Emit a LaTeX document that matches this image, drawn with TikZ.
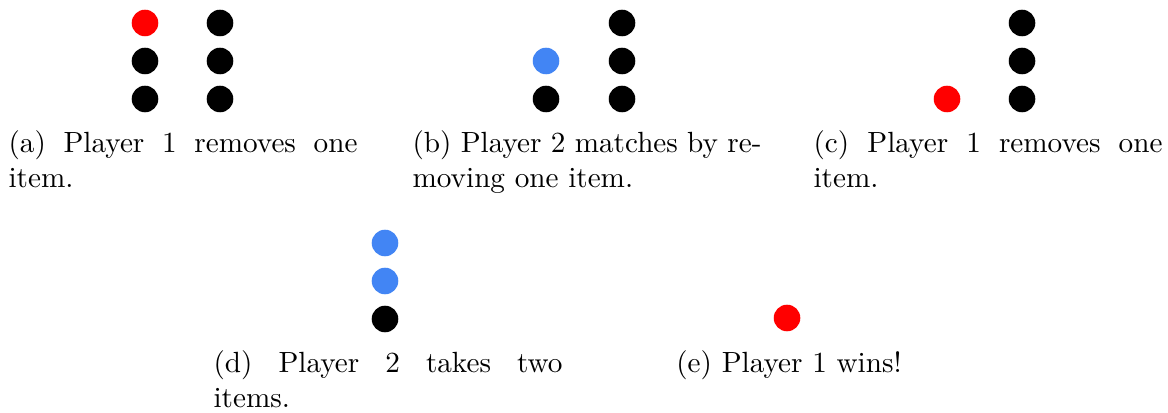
\documentclass[tikz,border=0pt]{standalone}
\usepackage{tikz}

\definecolor{pone}{RGB}{255,0,0}
\definecolor{ptwo}{RGB}{66,133,244}

% width of a subfigure caption
\newlength{\capw}
\setlength{\capw}{119.5pt}

\tikzset{
  item/.style={circle, fill=black, inner sep=0pt, minimum size=9.1pt},
  takenone/.style={item, fill=pone},
  takentwo/.style={item, fill=ptwo},
  caplabel/.style={anchor=base west, inner sep=0pt, font=\normalsize}
}

\begin{document}
\begin{tikzpicture}[x=0.3425pt, y=-0.3425pt]
  \useasboundingbox (0,0) rectangle (1168,413);

  % (a) two full piles, player 1 takes one
  \node[takenone] (a11) at (145,23) {};
  \node[item]     (a12) at (145,61) {};
  \node[item]     (a13) at (145,99) {};
  \node[item]     (a21) at (220,23) {};
  \node[item]     (a22) at (220,61) {};
  \node[item]     (a23) at (220,99) {};
  \node[caplabel] (capa1) at (8,153) {\makebox[\capw][s]{(a) Player 1 removes one}};
  \node[caplabel] (capa2) at (8,188) {item.};

  % (b) player 2 mirrors the move
  \node[takentwo] (b12) at (546,61) {};
  \node[item]     (b13) at (546,99) {};
  \node[item]     (b21) at (622,23) {};
  \node[item]     (b22) at (622,61) {};
  \node[item]     (b23) at (622,99) {};
  \node[caplabel] (capb1) at (412,153) {\makebox[\capw][s]{(b) Player 2 matches by re-}};
  \node[caplabel] (capb2) at (412,188) {moving one item.};

  % (c) player 1 empties the first pile
  \node[takenone] (c13) at (947,99) {};
  \node[item]     (c21) at (1022,23) {};
  \node[item]     (c22) at (1022,61) {};
  \node[item]     (c23) at (1022,99) {};
  \node[caplabel] (capc1) at (813,153) {\makebox[\capw][s]{(c) Player 1 removes one}};
  \node[caplabel] (capc2) at (813,188) {item.};

  % (d) player 2 takes two from the last pile
  \node[takentwo] (d1) at (385,243) {};
  \node[takentwo] (d2) at (385,281) {};
  \node[item]     (d3) at (385,319) {};
  \node[caplabel] (capd1) at (213,373) {\makebox[\capw][s]{(d) Player 2 takes two}};
  \node[caplabel] (capd2) at (213,408) {items.};

  % (e) player 1 takes the last item
  \node[takenone] (e1) at (787,318) {};
  \node[anchor=base, inner sep=0pt] (cape) at (789,373) {(e) Player 1 wins!};
\end{tikzpicture}
\end{document}
